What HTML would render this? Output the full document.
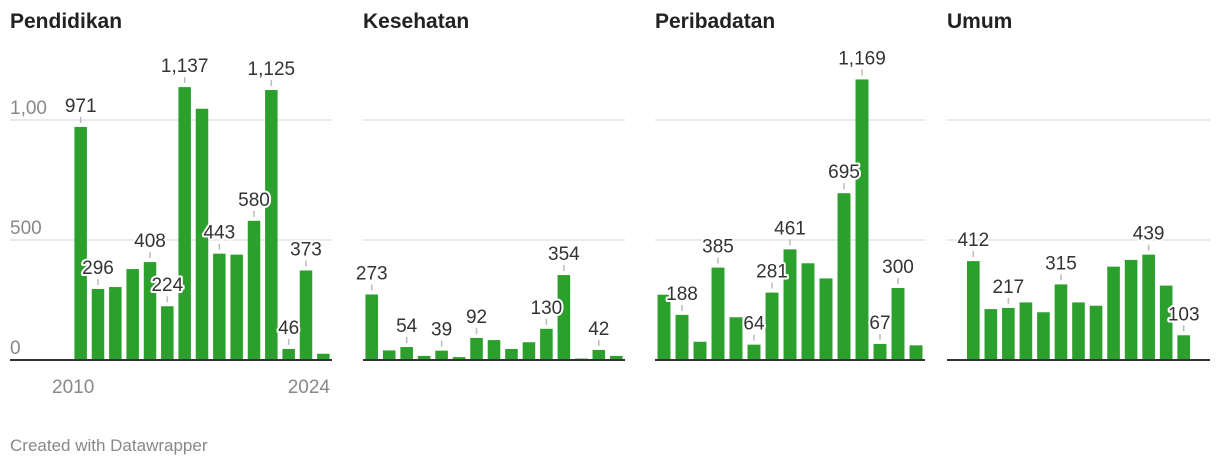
<!DOCTYPE html>
<html><head><meta charset="utf-8">
<style>
body{margin:0;background:#fff;width:1220px;height:468px;overflow:hidden;font-family:"Liberation Sans",Arial,sans-serif;}
svg{display:block}
</style></head>
<body>
<svg id="chart" width="1220" height="468" xmlns="http://www.w3.org/2000/svg"></svg>
<script>
const years = [2010,2011,2012,2013,2014,2015,2016,2017,2018,2019,2020,2021,2022,2023,2024];
const panelTitles = ["Pendidikan","Kesehatan","Peribadatan","Umum"];
const pendidikan = [971,296,304,379,408,224,1137,1047,443,439,580,1125,46,373,26];
const kesehatan = [273,40,54,17,39,12,92,83,46,74,130,354,6,42,17];
const peribadatan = [272,188,76,385,178,64,281,461,403,340,695,1169,67,300,61];
const umum = [null,412,212,217,240,199,315,240,226,389,417,439,310,103,null];
const pendidikanLabels = [1,1,0,0,1,1,1,0,1,0,1,1,1,1,0];
const kesehatanLabels = [1,0,1,0,1,0,1,0,0,0,1,1,0,1,0];
const peribadatanLabels = [0,1,0,1,0,1,1,1,0,0,1,1,1,1,0];
const umumLabels = [0,1,0,1,0,0,1,0,0,0,0,1,0,1,0];
const yTicks = [0,500,1000];
const yTickLabels = ["0","500","1,00"];
const xTickLabels = ["2010","2024"];

const NS="http://www.w3.org/2000/svg";
const svg=document.getElementById('chart');
function mk(tag,attrs,parent){const e=document.createElementNS(NS,tag);for(const k in attrs)e.setAttribute(k,attrs[k]);(parent||svg).appendChild(e);return e;}
const baseY=360, pxPerUnit=0.24;
function yScale(v){return baseY - v*pxPerUnit;}
const panels=[
 {data:pendidikan,labels:pendidikanLabels,gx0:10,x0:72,x1:332,tx:10},
 {data:kesehatan,labels:kesehatanLabels,gx0:363,x0:363,x1:625,tx:363},
 {data:peribadatan,labels:peribadatanLabels,gx0:655,x0:655,x1:925,tx:655},
 {data:umum,labels:umumLabels,gx0:947,x0:947,x1:1210,tx:947}
];
const fmt=v=>v.toLocaleString('en-US');
panels.forEach((p,pi)=>{
  const g=mk('g',{});
  
  
  const t=mk('text',{x:p.tx,y:28,'font-size':21,'font-weight':'bold',fill:'#222'},g);
  t.textContent=panelTitles[pi];
  
  
  yTicks.forEach((v,i)=>{
    if(v>0){const gl=mk('line',{x1:p.gx0,x2:p.x1,y1:yScale(v),y2:yScale(v),stroke:'#e3e3e3','stroke-width':1.5},g);
      
      }
  });
  const pitch=(p.x1-p.x0)/years.length, bw=pitch*0.72;
  const labelsLayer=[];
  p.data.forEach((v,i)=>{
    if(v===null)return;
    const x=p.x0+i*pitch+(pitch-bw)/2;
    const r=mk('rect',{x:x,y:yScale(v),width:bw,height:v*pxPerUnit,fill:'#2ca02c'},g);
    
    
    if(p.labels[i]) labelsLayer.push([x+bw/2,yScale(v),v]);
  });
  labelsLayer.forEach(([cx,top,v])=>{
    const tk=mk('line',{x1:cx,x2:cx,y1:top-10,y2:top-4,stroke:'#bbb','stroke-width':1.5},g);
    
    
    const tl=mk('text',{x:cx,y:top-15,'font-size':19,'text-anchor':'middle',fill:'#333',stroke:'#fff','stroke-width':4,'paint-order':'stroke','stroke-linejoin':'round'},g);
    tl.textContent=fmt(v);
    
    
  });
  const ax=mk('line',{x1:p.gx0,x2:p.x1,y1:baseY,y2:baseY,stroke:'#333','stroke-width':2},g);
  
  
});
// y tick labels (first panel)
yTicks.forEach((v,i)=>{
  const t=mk('text',{x:10,y:yScale(v)-6,'font-size':19,fill:'#888'});
  t.textContent=yTickLabels[i];
  
  
});
// x tick labels
const xl1=mk('text',{x:52,y:393,'font-size':19,fill:'#888'});xl1.textContent=xTickLabels[0];


const xl2=mk('text',{x:330,y:393,'font-size':19,fill:'#888','text-anchor':'end'});xl2.textContent=xTickLabels[1];


const ft=mk('text',{x:10,y:451,'font-size':17,fill:'#888'});ft.textContent="Created with Datawrapper";


</script>
</body></html>
